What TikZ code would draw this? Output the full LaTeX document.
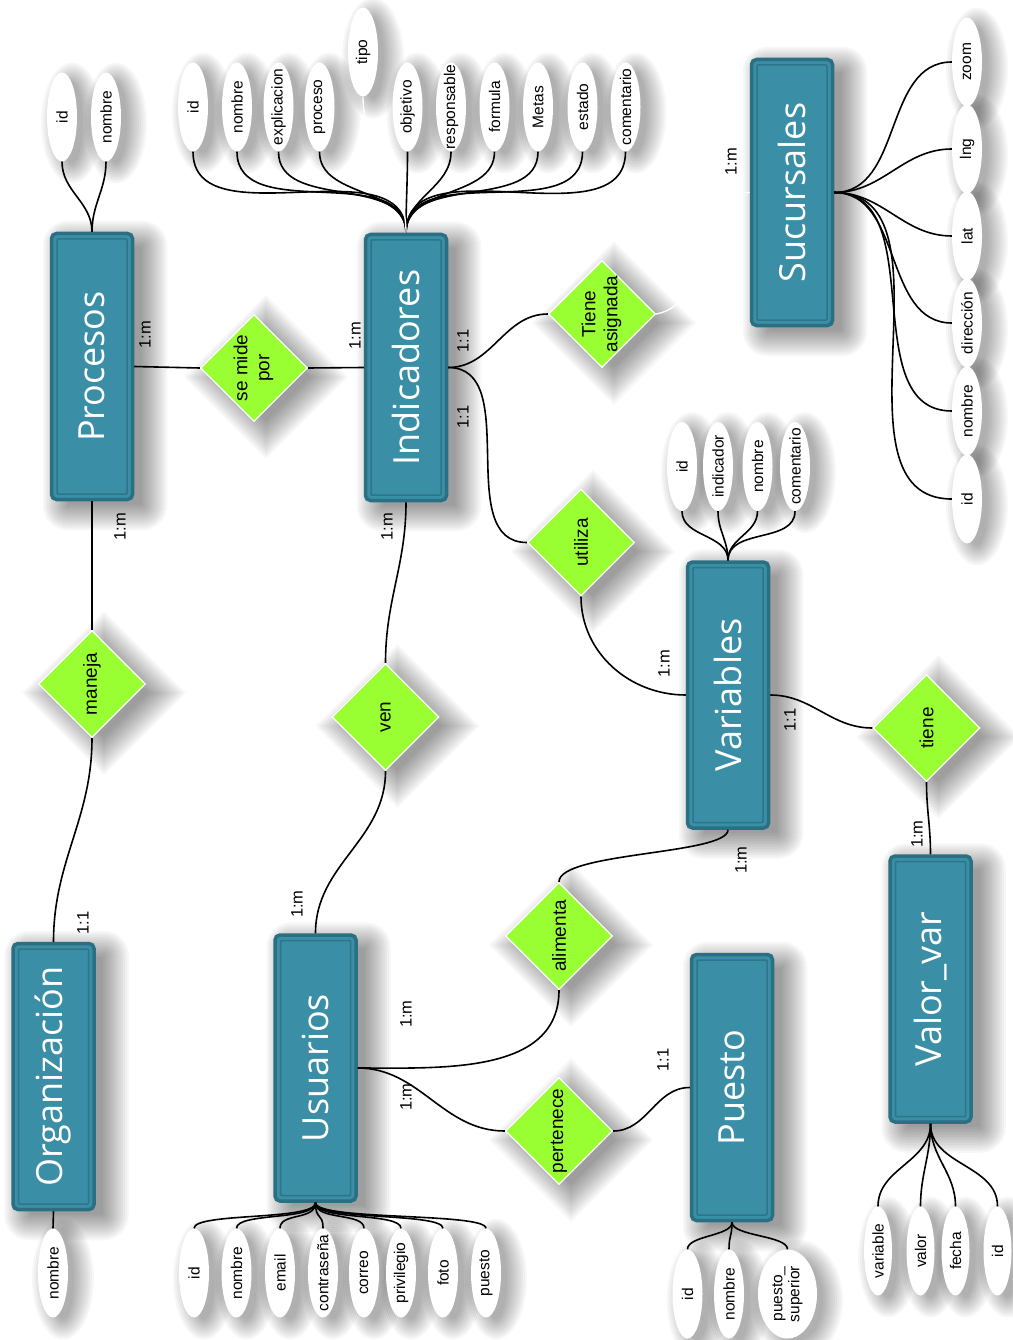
\documentclass[tikz,border=0pt]{standalone}
\usepackage{fontspec}
\setmainfont{Liberation Sans}
\newfontfamily\entfont{Open Sans}
\usetikzlibrary{shapes.geometric,calc}

\definecolor{entfill}{HTML}{3A8FA6}
\definecolor{entdark}{HTML}{2A6F82}
\definecolor{relfill}{HTML}{99FF33}

\pgfdeclarelayer{paper}
\pgfdeclarelayer{shade}
\pgfsetlayers{paper,shade,main}

% vertical labels that do not change the size of their node
\newcommand{\vlab}[1]{\rotatebox{90}{\makebox[0pt]{#1}}}
\newcommand{\vlabs}[1]{\rotatebox{90}{\makebox[0pt]{\begin{tabular}{@{}c@{}}#1\end{tabular}}}}

% soft drop shadows, built from stacked translucent layers
\newcommand{\shadestep}{0.03}
\newcommand{\boxshade}[1]{%
  \begin{pgfonlayer}{shade}
  \foreach \r in {-6,-4,...,20}{%
    \fill[black, fill opacity=\shadestep, rounded corners={max(1,5+\r)*1pt}]
      ($(#1.south west)+(13-\r,-9-\r)$) rectangle ($(#1.north east)+(13+\r,-9+\r)$);}
  \end{pgfonlayer}}
\newcommand{\ovalshade}[3]{%
  \begin{pgfonlayer}{shade}
  \foreach \r in {-4,-2,...,16}{%
    \fill[black, fill opacity=\shadestep]
      ($(#1.center)+(10,-6)$) ellipse [x radius=#2+\r, y radius=#3+\r];}
  \end{pgfonlayer}}
\newcommand{\gemshade}[1]{%
  \begin{pgfonlayer}{shade}
  \foreach \r in {-6,-4,...,20}{%
    \pgfmathsetmacro\d{53.5+1.414*\r}
    \fill[black, fill opacity=\shadestep]
      ($(#1.center)+(12,-9)$) +(0,\d) -- +(\d,0) -- +(0,-\d) -- +(-\d,0) -- cycle;}
  \end{pgfonlayer}}

\tikzset{
  entity/.style={rectangle, rounded corners=5pt, fill=entfill, draw=entdark,
      line width=3.5pt, minimum width=81pt, minimum height=266pt, inner sep=0pt,
      text=white, font=\entfont\fontsize{36}{40}\selectfont,
      path picture={\draw[entdark!80!entfill, line width=1.5pt, rounded corners=1pt]
        ([shift={(5.5pt,5.5pt)}]path picture bounding box.south west) rectangle
        ([shift={(-5.5pt,-5.5pt)}]path picture bounding box.north east);}},
  rel/.style={diamond, aspect=1, fill=relfill, draw=white, line width=1.2pt,
      minimum width=107pt, minimum height=107pt, inner sep=0pt,
      font=\fontsize{19}{22}\selectfont},
  attr/.style={ellipse, fill=white, minimum width=30pt, minimum height=89pt,
      inner sep=0pt, font=\fontsize{15.5}{17}\selectfont},
  card/.style={rotate=90, inner sep=0pt, font=\fontsize{16.5}{18}\selectfont},
  link/.style={line width=1.6pt, black},
  ghost/.style={line width=1.3pt, white},
}

\begin{document}
\begin{tikzpicture}[x=1pt,y=1pt]
\useasboundingbox (0,0) rectangle (1012,-1340);
\begin{pgfonlayer}{paper}
  \fill[white] (0,0) rectangle (1012,-1340);
\end{pgfonlayer}

% ---------- entities ----------
\node[entity] (proc) at (92,-366.5)    {\vlab{Procesos}};
\node[entity] (ind)  at (406,-367.5)   {\vlab{Indicadores}};
\node[entity] (suc)  at (792,-192.5)   {\vlab{Sucursales}};
\node[entity] (var)  at (728,-695)     {\vlab{Variables}};
\node[entity] (org)  at (53.5,-1076.5) {\vlab{Organización}};
\node[entity] (usr)  at (315.5,-1068)  {\vlab{Usuarios}};
\node[entity] (pue)  at (732,-1087.5)  {\vlab{Puesto}};
\node[entity] (vv)   at (930.5,-989)   {\vlab{Valor\_var}};
\foreach \e in {proc,ind,suc,var,org,usr,pue,vv}{\boxshade{\e}}

% ---------- relationships ----------
\node[rel] (mide) at (254,-368)    {\vlabs{se mide\\por}};
\node[rel] (asig) at (602,-314)    {\vlabs{Tiene\\asignada}};
\node[rel] (util) at (581,-542.5)  {\vlab{utiliza}};
\node[rel] (mane) at (92,-684)     {\vlab{maneja}};
\node[rel] (ven)  at (385.5,-717)  {\vlab{ven}};
\node[rel] (tien) at (926.5,-728)  {\vlab{tiene}};
\node[rel] (alim) at (559,-936)    {\vlab{alimenta}};
\node[rel] (pert) at (559,-1131)   {\vlab{pertenece}};
\foreach \g in {mide,asig,util,mane,ven,tien,alim,pert}{\gemshade{\g}}

% ---------- attributes ----------
% Procesos
\node[attr] (p1) at (62,-117)  {\vlab{id}};
\node[attr] (p2) at (106,-117) {\vlab{nombre}};
% Indicadores
\node[attr] (i1)  at (193,-107)   {\vlab{id}};
\node[attr] (i2)  at (237,-107)   {\vlab{nombre}};
\node[attr] (i3)  at (278.5,-107) {\vlab{explicacion}};
\node[attr] (i4)  at (319.5,-107) {\vlab{proceso}};
\node[attr] (i5)  at (363,-52)    {\vlab{tipo}};
\node[attr] (i6)  at (407.5,-107) {\vlab{objetivo}};
\node[attr] (i7)  at (451,-107)   {\vlab{responsable}};
\node[attr] (i8)  at (494.5,-107) {\vlab{formula}};
\node[attr] (i9)  at (538,-107)   {\vlab{Metas}};
\node[attr] (i10) at (582.5,-107) {\vlab{estado}};
\node[attr] (i11) at (625.5,-107) {\vlab{comentario}};
% Sucursales
\node[attr] (s1) at (967,-62)  {\vlab{zoom}};
\node[attr] (s2) at (967,-149) {\vlab{lng}};
\node[attr] (s3) at (967,-236) {\vlab{lat}};
\node[attr] (s4) at (967,-323) {\vlab{dirección}};
\node[attr] (s5) at (967,-411) {\vlab{nombre}};
\node[attr] (s6) at (967,-499) {\vlab{id}};
% Variables
\node[attr] (v1) at (682,-466.5)   {\vlab{id}};
\node[attr] (v2) at (718,-466.5)   {\vlab{indicador}};
\node[attr] (v3) at (757.5,-466.5) {\vlab{nombre}};
\node[attr] (v4) at (795,-466.5)   {\vlab{comentario}};
% Organizacion
\node[attr] (o1) at (53,-1273) {\vlab{nombre}};
% Usuarios
\node[attr] (u1) at (194,-1273)   {\vlab{id}};
\node[attr] (u2) at (236.5,-1273) {\vlab{nombre}};
\node[attr] (u3) at (280,-1273)   {\vlab{email}};
\node[attr] (u4) at (323,-1273)   {\vlab{contraseña}};
\node[attr] (u5) at (364,-1273)   {\vlab{correo}};
\node[attr] (u6) at (401,-1273)   {\vlab{privilegio}};
\node[attr] (u7) at (443,-1273)   {\vlab{foto}};
\node[attr] (u8) at (486,-1273)   {\vlab{puesto}};
% Puesto
\node[attr] (q1) at (687.5,-1294) {\vlab{id}};
\node[attr] (q2) at (729,-1294)   {\vlab{nombre}};
\node[attr, minimum width=59pt] (q3) at (787.5,-1294) {\vlabs{puesto\_\\superior}};
% Valor_var
\node[attr, minimum width=28pt] (w1) at (878,-1251)   {\vlab{variable}};
\node[attr, minimum width=28pt] (w2) at (920.5,-1251) {\vlab{valor}};
\node[attr, minimum width=28pt] (w3) at (955.5,-1251) {\vlab{fecha}};
\node[attr, minimum width=28pt] (w4) at (997.5,-1251) {\vlab{id}};

\foreach \a in {p1,p2,i1,i2,i3,i4,i5,i6,i7,i8,i9,i10,i11,s1,s2,s3,s4,s5,s6,
                v1,v2,v3,v4,o1,u1,u2,u3,u4,u5,u6,u7,u8,q1,q2}{\ovalshade{\a}{15}{44.5}}
\ovalshade{q3}{29.5}{44.5}
\foreach \a in {w1,w2,w3,w4}{\ovalshade{\a}{14}{44.5}}

% ---------- attribute links ----------
\foreach \a in {p1,p2}
  \draw[link] (\a.south) to[out=-90,in=90] (proc.north);
\foreach \a in {i1,i2,i3,i4,i6,i7,i8,i9,i10,i11}
  \draw[link] (\a.south) to[out=-90,in=90] (ind.north);
\draw[ghost] (i5.south) to[out=-90,in=90] (ind.north);
\foreach \a in {s1,s2,s3,s4,s5,s6}
  \draw[link] (suc.east) to[out=0,in=180] (\a.west);
\foreach \a in {v1,v2,v3,v4}
  \draw[link] (\a.south) to[out=-90,in=90] (var.north);
\draw[link] (org.south) -- (o1.north);
\foreach \a in {u1,u2,u3,u4,u5,u6,u7,u8}
  \draw[link] (usr.south) .. controls +(0,-18) and +(0,16) .. (\a.north);
\foreach \a in {q1,q2,q3}
  \draw[link] (pue.south) .. controls +(0,-14) and +(0,14) .. (\a.north);
\foreach \a in {w1,w2,w3,w4}
  \draw[link] (vv.south) to[out=-90,in=90] (\a.north);

% ---------- relationship links ----------
\draw[link] (proc.east) -- (mide.west);
\draw[link] (mide.east) -- (ind.west);
\draw[link] (proc.south) -- (mane.north);
\draw[link] (mane.south) to[out=-90,in=90] (org.north);
\draw[link] (ind.south) to[out=-90,in=90] (ven.north);
\draw[link] (ven.south) to[out=-90,in=90] (usr.north);
\draw[link] (ind.east) to[out=0,in=180] (asig.west);
\draw[link] (ind.east) to[out=0,in=180] (util.west);
\draw[link] (util.south) to[out=-90,in=180] (var.west);
\draw[link] (var.east) to[out=0,in=180] (tien.west);
\draw[link] (tien.south) to[out=-90,in=90] (vv.north);
\draw[link] (var.south) .. controls +(0,-25) and +(0,30) .. (alim.north);
\draw[link] (alim.south) to[out=-90,in=0] (usr.east);
\draw[link] (usr.east) to[out=0,in=180] (pert.west);
\draw[link] (pert.east) to[out=0,in=180] (pue.west);
\draw[ghost] (asig.east) to[out=10,in=180] (suc.west);

% ---------- cardinalities ----------
\node[card] (c1)  at (145,-335)  {1:m};
\node[card] (c2)  at (355,-336)  {1:m};
\node[card] (c3)  at (463,-341)  {1:1};
\node[card] (c4)  at (463,-417)  {1:1};
\node[card] (c5)  at (120,-527)  {1:m};
\node[card] (c6)  at (387,-527)  {1:m};
\node[card] (c7)  at (731,-162)  {1:m};
\node[card] (c8)  at (664,-664)  {1:m};
\node[card] (c9)  at (790,-720)  {1:1};
\node[card] (c10) at (741,-860)  {1:m};
\node[card] (c11) at (917,-834)  {1:m};
\node[card] (c12) at (83,-923)   {1:1};
\node[card] (c13) at (297,-904)  {1:m};
\node[card] (c14) at (406,-1014) {1:m};
\node[card] (c15) at (406,-1097) {1:m};
\node[card] (c16) at (663,-1060) {1:1};
\end{tikzpicture}
\end{document}
